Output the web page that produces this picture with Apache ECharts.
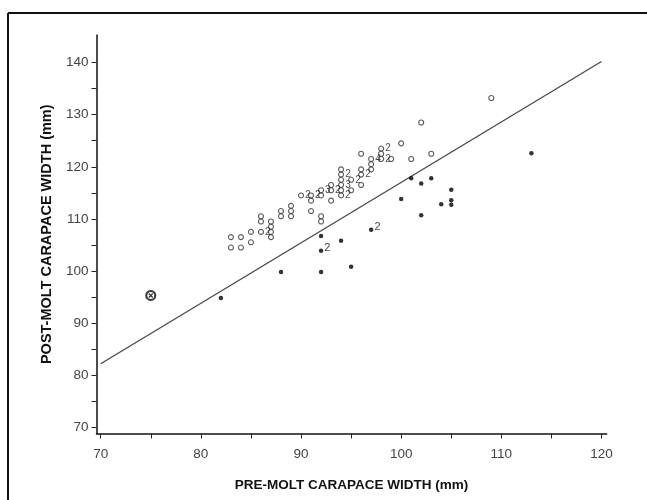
<!DOCTYPE html>
<html>
<head>
<meta charset="utf-8">
<script src="https://cdn.jsdelivr.net/npm/echarts@6/dist/echarts.min.js"></script>
<style>
html,body{margin:0;padding:0;background:#fff;}
#chart{width:647px;height:500px;}
</style>
</head>
<body>
<div id="chart"></div>
<script>
// Open circles (post-molt above the line)
const openX = [83,83,84,84,85,85,86,86,86,87,87,87,87,88,88,89,89,89,90,91,91,91,92,92,92,92,93,93,93,94,94,94,94,94,94,95,95,96,96,96,96,97,97,97,98,98,98,99,100,101,102,103,109];
const openY = [106.5,104.5,106.5,104.5,107.5,105.5,110.5,109.5,107.5,109.5,108.5,107.5,106.5,111.5,110.5,112.5,111.5,110.5,114.5,114.5,113.5,111.5,115.5,114.5,110.5,109.5,116.5,115.5,113.5,119.5,118.5,117.5,116.5,115.5,114.5,117.5,115.5,122.5,119.5,118.5,116.5,121.5,120.5,119.5,123.5,122.5,121.5,121.5,124.5,121.5,128.5,122.5,133.2];
const openCount = [1,1,1,1,1,1,1,1,2,1,1,1,1,1,1,1,1,1,2,2,1,1,3,1,1,1,1,2,1,1,2,1,3,1,2,2,1,1,1,2,1,4,1,1,2,1,2,1,1,1,1,1,1];

// Filled dots
const filledX = [82,88,92,92,92,94,95,97,100,101,102,102,103,104,105,105,105,113];
const filledY = [94.8,99.8,99.8,103.9,106.7,105.8,100.8,107.9,113.8,117.8,116.8,110.7,117.8,112.8,115.6,113.6,112.7,122.6];
const filledCount = [1,1,1,2,1,1,1,2,1,1,1,1,1,1,1,1,1,1];

// Special circled point
const specialX = [75];
const specialY = [95.3];

// Fitted line end points
const fitX = [70,120];
const fitY = [82.2,140.2];

// Axis ticks/labels
const xLabels = [70,80,90,100,110,120];
const xTicks = [70,75,80,85,90,95,100,105,110,115,120];
const yLabels = [70,80,90,100,110,120,130,140];
const yTicks = [70,75,80,85,90,95,100,105,110,115,120,125,130,135,140];

const xTitle = 'PRE-MOLT CARAPACE WIDTH (mm)';
const yTitle = 'POST-MOLT CARAPACE WIDTH (mm)';

function pts(xs, ys, ns) {
  return xs.map((x, i) => {
    const item = { value: [x, ys[i]] };
    if (ns && ns[i] > 1) {
      item.label = { show: true, formatter: String(ns[i]) };
    }
    return item;
  });
}

const chart = echarts.init(document.getElementById('chart'), null, { renderer: 'canvas' });
const axisFont = 'Liberation Sans, Arial, sans-serif';
const titleFont = 'Liberation Sans, Arial, sans-serif';

chart.setOption({
  backgroundColor: '#fff',
  animation: false,
  grid: { left: 96.5, right: 40.3, top: 35, bottom: 66.5 },
  xAxis: {
    type: 'value',
    min: 69.58, max: 120.52,
    splitLine: { show: false },
    axisLine: { show: true, lineStyle: { color: '#111', width: 1.5 } },
    axisTick: { show: true, length: 5, customValues: xTicks, lineStyle: { color: '#222', width: 1 } },
    axisLabel: { customValues: xLabels, color: '#444', fontSize: 13.5, fontFamily: axisFont, margin: 14 },
    name: xTitle,
    nameLocation: 'middle',
    nameGap: 45,
    nameTextStyle: { color: '#111', fontSize: 13.5, fontWeight: 'bold', fontFamily: titleFont }
  },
  yAxis: {
    type: 'value',
    min: 68.8, max: 145.3,
    splitLine: { show: false },
    axisLine: { show: true, lineStyle: { color: '#111', width: 1.5 } },
    axisTick: { show: true, length: 5, customValues: yTicks, lineStyle: { color: '#222', width: 1 } },
    axisLabel: { customValues: yLabels, color: '#444', fontSize: 13.5, fontFamily: axisFont, margin: 8 },
    name: yTitle,
    nameLocation: 'middle',
    nameGap: 42,
    nameRotate: 90,
    nameTextStyle: { color: '#111', fontSize: 14.5, fontWeight: 'bold', fontFamily: titleFont }
  },
  graphic: [
    { type: 'line', shape: { x1: 8, y1: 13, x2: 8, y2: 500 }, style: { stroke: '#111', lineWidth: 2 } },
    { type: 'line', shape: { x1: 8, y1: 13, x2: 647, y2: 13 }, style: { stroke: '#111', lineWidth: 2 } }
  ],
  series: [
    {
      type: 'line',
      data: fitX.map((x, i) => [x, fitY[i]]),
      symbol: 'none',
      lineStyle: { color: '#444', width: 1.2 },
      z: 1
    },
    {
      type: 'scatter',
      data: pts(openX, openY, openCount),
      symbol: 'circle',
      symbolSize: 5,
      itemStyle: { color: '#fff', borderColor: '#333', borderWidth: 1.1 },
      label: { position: 'right', distance: 1, fontSize: 10, color: '#222', fontFamily: axisFont },
      z: 3
    },
    {
      type: 'scatter',
      data: pts(filledX, filledY, filledCount),
      symbol: 'circle',
      symbolSize: 4.5,
      itemStyle: { color: '#000' },
      label: { position: 'right', distance: 1, offset: [0, -3], fontSize: 11, color: '#111', fontFamily: axisFont },
      z: 3
    },
    {
      type: 'scatter',
      data: specialX.map((x, i) => [x, specialY[i]]),
      symbol: 'circle',
      symbolSize: 9,
      itemStyle: { color: '#fff', borderColor: '#000', borderWidth: 2 },
      z: 4
    },
    {
      type: 'scatter',
      data: specialX.map((x, i) => [x, specialY[i]]),
      symbol: 'path://M0,0L10,10M10,0L0,10',
      symbolSize: 4,
      itemStyle: { color: 'none', borderColor: '#000', borderWidth: 1.3 },
      z: 5
    }
  ]
});
</script>
</body>
</html>
